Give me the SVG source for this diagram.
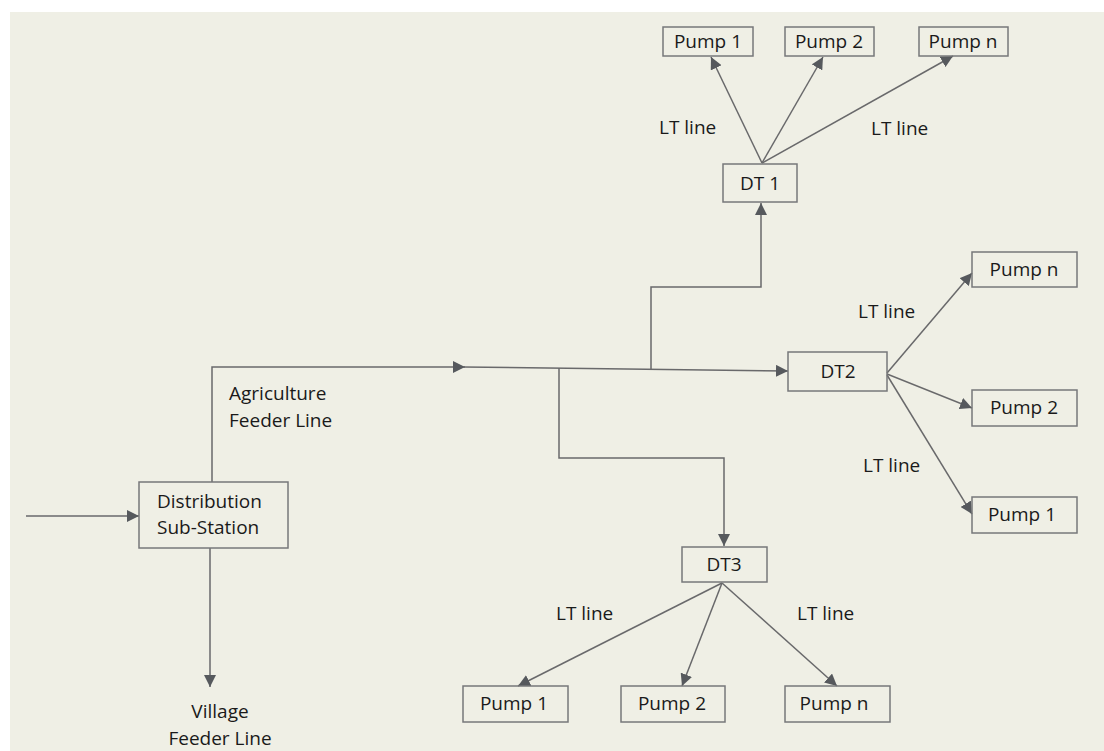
<svg xmlns="http://www.w3.org/2000/svg" width="1104" height="751" viewBox="0 0 1104 751">
<defs>
<marker id="ah" markerUnits="userSpaceOnUse" markerWidth="14" markerHeight="12" refX="12" refY="6" orient="auto">
<path d="M0,0 L12,6 L0,12 Z" fill="#56595d"/>
</marker>
<style>
.box{fill:none;stroke:#77787a;stroke-width:1.5}
.t{font-family:"Open Sans","Liberation Sans",sans-serif;font-size:19px;fill:#1a1a1a}
.c{text-anchor:middle}
.ln{fill:none;stroke:#69696b;stroke-width:1.5}
</style>
</defs>
<rect x="10" y="12" width="1094" height="739" fill="#efefe5"/>
<g id="connectors">
<line class="ln" x1="26" y1="516" x2="139" y2="516" marker-end="url(#ah)"/>
<polyline class="ln" points="212,482 212,367 465,367" marker-end="url(#ah)"/>
<line class="ln" x1="463" y1="367" x2="788" y2="371" marker-end="url(#ah)"/>
<polyline class="ln" points="651,369 651,287 761,287 761,203" marker-end="url(#ah)"/>
<polyline class="ln" points="559,368 559,458 724,458 724,546" marker-end="url(#ah)"/>
<line class="ln" x1="210" y1="548" x2="210" y2="687" marker-end="url(#ah)"/>
<line class="ln" x1="762" y1="163" x2="711" y2="57" marker-end="url(#ah)"/>
<line class="ln" x1="762" y1="163" x2="823" y2="57" marker-end="url(#ah)"/>
<line class="ln" x1="762" y1="163" x2="953" y2="56" marker-end="url(#ah)"/>
<line class="ln" x1="887" y1="373" x2="972" y2="273" marker-end="url(#ah)"/>
<line class="ln" x1="887" y1="374" x2="972" y2="408" marker-end="url(#ah)"/>
<line class="ln" x1="887" y1="375" x2="972" y2="514" marker-end="url(#ah)"/>
<line class="ln" x1="722" y1="583" x2="518" y2="686" marker-end="url(#ah)"/>
<line class="ln" x1="722" y1="583" x2="682" y2="686" marker-end="url(#ah)"/>
<line class="ln" x1="722" y1="583" x2="837" y2="686" marker-end="url(#ah)"/>
</g>
<g id="dss">
<rect class="box" x="139" y="482" width="149" height="66"/>
<text class="t" x="157" y="508">Distribution</text>
<text class="t" x="157" y="534">Sub-Station</text>
</g>
<g id="labels">
<text class="t" x="229" y="400">Agriculture</text>
<text class="t" x="229" y="427">Feeder Line</text>
<text class="t c" x="220" y="718">Village</text>
<text class="t c" x="220" y="745">Feeder Line</text>
<text class="t" x="659" y="134">LT line</text>
<text class="t" x="871" y="135">LT line</text>
<text class="t" x="858" y="318">LT line</text>
<text class="t" x="863" y="472">LT line</text>
<text class="t" x="556" y="620">LT line</text>
<text class="t" x="797" y="620">LT line</text>
</g>
<g id="dt1">
<rect class="box" x="723" y="164" width="74" height="38"/>
<text class="t c" x="760" y="190">DT 1</text>
</g>
<g id="dt2">
<rect class="box" x="788" y="352" width="99" height="39"/>
<text class="t c" x="838" y="378">DT2</text>
</g>
<g id="dt3">
<rect class="box" x="682" y="547" width="85" height="35"/>
<text class="t c" x="724" y="571">DT3</text>
</g>
<g id="dt1-pump1"><rect class="box" x="663" y="27" width="90" height="29"/><text class="t c" x="708" y="48">Pump 1</text></g>
<g id="dt1-pump2"><rect class="box" x="785" y="27" width="89" height="29"/><text class="t c" x="829" y="48">Pump 2</text></g>
<g id="dt1-pumpn"><rect class="box" x="919" y="27" width="89" height="29"/><text class="t c" x="963" y="48">Pump n</text></g>
<g id="dt2-pumpn"><rect class="box" x="972" y="252" width="105" height="35"/><text class="t c" x="1024" y="276">Pump n</text></g>
<g id="dt2-pump2"><rect class="box" x="972" y="390" width="105" height="36"/><text class="t c" x="1024" y="414">Pump 2</text></g>
<g id="dt2-pump1"><rect class="box" x="972" y="497" width="105" height="36"/><text class="t c" x="1022" y="521">Pump 1</text></g>
<g id="dt3-pump1"><rect class="box" x="463" y="686" width="105" height="36"/><text class="t c" x="514" y="710">Pump 1</text></g>
<g id="dt3-pump2"><rect class="box" x="621" y="686" width="104" height="36"/><text class="t c" x="672" y="710">Pump 2</text></g>
<g id="dt3-pumpn"><rect class="box" x="785" y="686" width="105" height="36"/><text class="t c" x="834" y="710">Pump n</text></g>
</svg>
